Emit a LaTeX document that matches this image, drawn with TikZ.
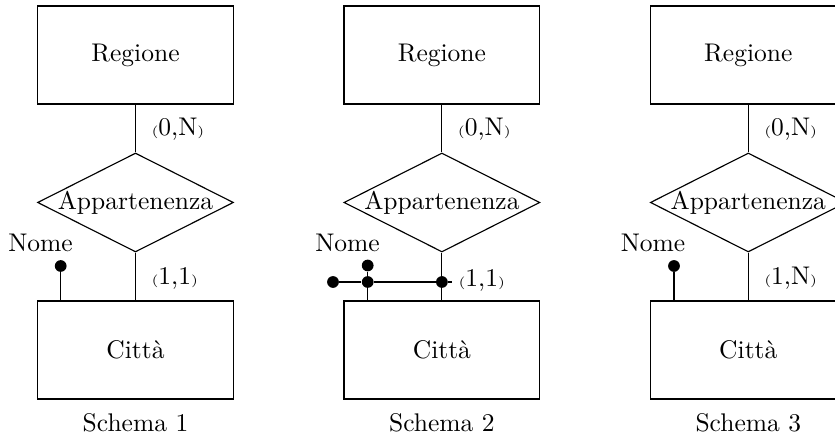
\documentclass[tikz,border=0pt]{standalone}
\usetikzlibrary{shapes.geometric}
\begin{document}
\begin{tikzpicture}[x=0.392pt,y=-0.392pt,
  entity/.style={draw, line width=0.45pt, minimum width=76.8pt, minimum height=38.4pt, inner sep=0pt},
  rel/.style={draw, line width=0.45pt, diamond, minimum width=76.8pt, minimum height=38.8pt, inner sep=0pt},
  dotnode/.style={circle, fill=black, inner sep=0pt, minimum size=4.6pt},
  conn/.style={line width=0.45pt},
  card/.style={anchor=base west, inner sep=0pt},
  lab/.style={anchor=base, inner sep=0pt}]
\useasboundingbox (0,0) rectangle (835,438);
\clip (0,0) rectangle (835,438);
\newcommand{\crd}[2]{{\tiny(}#1,#2{\tiny)}}
% ---------- Schema 1 ----------
\node[entity] (reg1) at (135.5,55) {Regione};
\node[rel, label=center:Appartenenza] (rel1) at (135.5,202.5) {};
\node[entity] (cit1) at (135.5,350) {Città};
\draw[conn] (reg1.south) -- (rel1.north);
\draw[conn] (rel1.south) -- (cit1.north);
\node[card] (c1a) at (151,136) {\crd{0}{N}};
\node[card] (c1b) at (151,284.5) {\crd{1}{1}};
\node[dotnode] (at1) at (60.7,266) {};
\draw[conn] (at1) -- (at1 |- cit1.north);
\node[lab] (nm1) at (40.5,251.5) {Nome};
\node[lab] (s1) at (135.5,431.5) {Schema 1};
% ---------- Schema 2 ----------
\node[entity] (reg2) at (441.9,55) {Regione};
\node[rel, label=center:Appartenenza] (rel2) at (441.9,202.5) {};
\node[entity] (cit2) at (441.9,350) {Città};
\draw[conn] (reg2.south) -- (rel2.north);
\draw[conn] (rel2.south) -- (cit2.north);
\node[card] (c2a) at (457.4,136) {\crd{0}{N}};
\node[card] (c2b) at (458,286.5) {\crd{1}{1}};
\node[dotnode] (id2l) at (333,282) {};
\node[dotnode] (id2j) at (367.7,282) {};
\node[dotnode] (at2) at (367.7,265.5) {};
\node[dotnode] (id2r) at (441.9,282) {};
\coordinate (id2e) at (452,282);
\draw[conn] (id2l) -- (id2j) -- (id2r) -- (id2e);
\draw[conn] (at2) -- (at2 |- cit2.north);
\node[lab] (nm2) at (347.5,251.5) {Nome};
\node[lab] (s2) at (441.9,431.5) {Schema 2};
% ---------- Schema 3 ----------
\node[entity] (reg3) at (748.3,55) {Regione};
\node[rel, label=center:Appartenenza] (rel3) at (748.3,202.5) {};
\node[entity] (cit3) at (748.3,350) {Città};
\draw[conn] (reg3.south) -- (rel3.north);
\draw[conn] (rel3.south) -- (cit3.north);
\node[card] (c3a) at (763.8,136) {\crd{0}{N}};
\node[card] (c3b) at (763.8,284.5) {\crd{1}{N}};
\node[dotnode] (at3) at (674,266) {};
\draw[conn] (at3) -- (at3 |- cit3.north);
\node[lab] (nm3) at (653,251.5) {Nome};
\node[lab] (s3) at (748.3,431.5) {Schema 3};
\end{tikzpicture}
\end{document}
